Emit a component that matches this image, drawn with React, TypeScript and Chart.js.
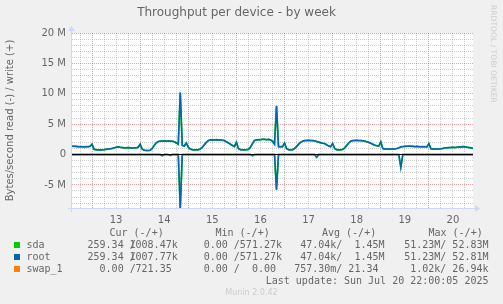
import React, { useEffect, useRef } from "react";
import { Chart, registerables } from "chart.js";

Chart.register(...registerables);

// Time axis: hours since Jul 12 14:00 (200 hours shown, hourly samples)
const TOTAL_HOURS = 200;
const dayLabelHours = [22, 46, 70, 94, 118, 142, 166, 190];
const dayLabels = ["13", "14", "15", "16", "17", "18", "19", "20"];
const yLabelValues = [-5, 0, 5, 10, 15, 20];
const yLabels = ["-5 M", "0", "5 M", "10 M", "15 M", "20 M"];
const Y_MIN = -8.8;
const Y_MAX = 20;

// Values in MB/s (millions of bytes per second), write positive, read negative
const sdaWrite = [
  1.38, 1.35, 1.35, 1.3, 1.3, 1.3, 1.25, 1.3, 1.3, 1.35,
  1.7, 0.85, 0.8, 0.75, 0.75, 0.78, 0.8, 0.85, 0.9, 0.95,
  1.0, 1.1, 1.2, 1.27, 1.2, 1.15, 1.1, 1.1, 1.15, 1.1,
  1.05, 1.1, 1.1, 1.2, 1.7, 0.9, 0.7, 0.66, 0.66, 0.7,
  1.0, 1.5, 1.9, 2.15, 2.2, 2.2, 2.25, 2.2, 2.25, 2.2,
  2.2, 2.1, 1.9, 1.7, 10.2, 1.5, 1.4, 1.9, 1.2, 0.9,
  0.8, 0.78, 0.78, 0.8, 0.9, 1.2, 1.6, 2.0, 2.3, 2.4,
  2.45, 2.4, 2.45, 2.4, 2.4, 2.35, 2.3, 2.1, 1.9, 1.7,
  1.5, 1.3, 2.0, 1.0, 0.8, 0.78, 0.78, 0.8, 0.85, 1.2,
  1.8, 2.3, 2.4, 2.45, 2.45, 2.5, 2.5, 2.45, 2.5, 2.4,
  2.2, 1.7, 8.0, 1.3, 1.3, 1.3, 1.9, 1.0, 0.8, 0.78,
  0.8, 1.0, 1.3, 1.7, 2.0, 2.2, 2.3, 2.3, 2.35, 2.3,
  2.3, 2.25, 2.15, 2.05, 1.95, 1.85, 1.8, 1.6, 1.4, 1.3,
  1.8, 1.0, 0.8, 0.78, 0.78, 0.85, 1.1, 1.5, 1.9, 2.2,
  2.3, 2.3, 2.35, 2.3, 2.3, 2.25, 2.2, 2.1, 2.0, 1.85,
  1.7, 1.55, 1.45, 1.4, 2.1, 1.0, 0.9, 0.9, 0.88, 0.9,
  0.9, 0.92, 1.0, 1.1, 1.25, 1.3, 1.35, 1.35, 1.4, 1.35,
  1.35, 1.3, 1.35, 1.3, 1.3, 1.3, 1.3, 1.25, 1.8, 0.95,
  0.9, 0.9, 0.9, 0.92, 0.95, 1.0, 1.1, 1.1, 1.15, 1.15,
  1.2, 1.15, 1.2, 1.25, 1.25, 1.3, 1.25, 1.2, 1.15, 1.1,
  1.0,
];
const sdaRead = [
  0, 0, 0, 0, 0, 0, 0, 0, 0, 0,
  0, 0, 0, 0, 0, 0, 0, 0, 0, 0,
  0, 0, 0, 0, 0, 0, 0, 0, 0, 0,
  0, 0, 0, 0, 0, 0, 0, 0, 0, 0,
  0, 0, 0, 0, 0, -0.2, 0, 0, 0, -0.15,
  0, 0, 0, 0, -8.9, 0, 0, 0, 0, 0,
  0, 0, 0, 0, 0, 0, 0, 0, 0, 0,
  0, 0, 0, 0, 0, 0, 0, 0, 0, 0,
  0, 0, 0, 0, 0, 0, 0, 0, 0, 0,
  -0.2, 0, 0, 0, 0, 0, 0, 0, 0, 0,
  0, 0, -5.8, 0, 0, 0, 0, 0, 0, 0,
  0, 0, 0, 0, 0, 0, 0, 0, 0, 0,
  0, 0, -0.45, 0, 0, 0, 0, 0, 0, 0,
  0, 0, 0, 0, 0, 0, 0, 0, 0, 0,
  0, 0, 0, 0, 0, 0, 0, 0, 0, 0,
  0, 0, 0, 0, 0, 0, 0, 0, 0, 0,
  0, 0, 0, 0, -2.1, 0, 0, 0, 0, 0,
  0, 0, 0, 0, 0, 0, 0, 0, 0, 0,
  0, 0, 0, 0, 0, 0, 0, 0, 0, 0,
  0, 0, 0, 0, 0, 0, 0, 0, 0, 0,
  0,
];
// root is the only partition on sda: same curve at this resolution
const rootWrite = sdaWrite;
const rootRead = sdaRead;
// swap_1 stays at a few bytes/s: flat at zero on this scale
const swapWrite = [
  0, 0, 0, 0, 0, 0, 0, 0, 0, 0, 0, 0, 0, 0, 0, 0, 0, 0, 0, 0,
  0, 0, 0, 0, 0, 0, 0, 0, 0, 0, 0, 0, 0, 0, 0, 0, 0, 0, 0, 0,
  0, 0, 0, 0, 0, 0, 0, 0, 0, 0, 0, 0, 0, 0, 0, 0, 0, 0, 0, 0,
  0, 0, 0, 0, 0, 0, 0, 0, 0, 0, 0, 0, 0, 0, 0, 0, 0, 0, 0, 0,
  0, 0, 0, 0, 0, 0, 0, 0, 0, 0, 0, 0, 0, 0, 0, 0, 0, 0, 0, 0,
  0, 0, 0, 0, 0, 0, 0, 0, 0, 0, 0, 0, 0, 0, 0, 0, 0, 0, 0, 0,
  0, 0, 0, 0, 0, 0, 0, 0, 0, 0, 0, 0, 0, 0, 0, 0, 0, 0, 0, 0,
  0, 0, 0, 0, 0, 0, 0, 0, 0, 0, 0, 0, 0, 0, 0, 0, 0, 0, 0, 0,
  0, 0, 0, 0, 0, 0, 0, 0, 0, 0, 0, 0, 0, 0, 0, 0, 0, 0, 0, 0,
  0, 0, 0, 0, 0, 0, 0, 0, 0, 0, 0, 0, 0, 0, 0, 0, 0, 0, 0, 0,
  0,
];
const swapRead = swapWrite;

// Legend table
const seriesNames = ["sda", "root", "swap_1"];
const seriesColors = ["#00CC00", "#0066B3", "#FF8000"];
const curRead = ["259.34 /", "259.34 /", "0.00 /"];
const curWrite = ["1008.47k", "1007.77k", "721.35 "];
const minVals = ["0.00 /571.27k", "0.00 /571.27k", "0.00 /  0.00 "];
const avgVals = ["47.04k/  1.45M", "47.04k/  1.45M", "757.30m/ 21.34 "];
const maxVals = ["51.23M/ 52.83M", "51.23M/ 52.81M", "1.02k/ 26.94k"];
const headers = ["Cur (-/+)", "Min (-/+)", "Avg (-/+)", "Max (-/+)"];
const lastUpdate = "Last update: Sun Jul 20 22:00:05 2025";

const MAJOR = "rgba(222,79,79,0.55)";
const MINOR = "rgba(150,150,150,0.45)";
const FONT_COLOR = "#666666";
const AXIS_COLOR = "#CFD6F8";

const toPoints = (arr: number[]) => arr.map((v, i) => ({ x: i, y: v }));

const muninPlugin = {
  id: "munin",
  beforeDraw(chart: any) {
    const { ctx, chartArea: a } = chart;
    ctx.save();
    ctx.fillStyle = "#F0F0F0";
    ctx.fillRect(0, 0, chart.width, chart.height);
    ctx.fillStyle = "#FFFFFF";
    ctx.fillRect(a.left, a.top, a.right - a.left, a.bottom - a.top);
    ctx.restore();
  },
  afterDatasetsDraw(chart: any) {
    const { ctx, chartArea: a } = chart;
    const y0 = Math.round(chart.scales.y.getPixelForValue(0) - 0.5) + 0.5;
    ctx.save();
    ctx.strokeStyle = "#000000";
    ctx.lineWidth = 1;
    ctx.beginPath();
    ctx.moveTo(a.left, y0);
    ctx.lineTo(a.right, y0);
    ctx.stroke();
    // axes with arrows
    ctx.strokeStyle = AXIS_COLOR;
    ctx.fillStyle = AXIS_COLOR;
    const bx = Math.round(a.bottom) + 0.5;
    const lx = Math.round(a.left) - 0.5;
    ctx.beginPath();
    ctx.moveTo(a.left - 4, bx);
    ctx.lineTo(a.right + 3, bx);
    ctx.moveTo(lx, a.bottom + 4);
    ctx.lineTo(lx, a.top - 3);
    ctx.stroke();
    ctx.beginPath();
    ctx.moveTo(a.right + 2, bx - 3.5);
    ctx.lineTo(a.right + 7, bx);
    ctx.lineTo(a.right + 2, bx + 3.5);
    ctx.closePath();
    ctx.fill();
    ctx.beginPath();
    ctx.moveTo(lx - 3.5, a.top - 2);
    ctx.lineTo(lx, a.top - 7);
    ctx.lineTo(lx + 3.5, a.top - 2);
    ctx.closePath();
    ctx.fill();
    ctx.restore();
  },
};

const tickFont = { family: "'DejaVu Sans', sans-serif", size: 10 };

export default function App() {
  const ref = useRef<HTMLCanvasElement>(null);

  useEffect(() => {
    const mk = (label: string, data: number[], color: string, width: number, order: number) => ({
      label,
      data: toPoints(data),
      borderColor: color,
      backgroundColor: color,
      borderWidth: width,
      pointRadius: 0,
      tension: 0,
      fill: false,
      order,
    });
    const chart = new Chart(ref.current as HTMLCanvasElement, {
      type: "line",
      data: {
        datasets: [
          mk("root read", rootRead, "#0066B3", 1.5, 1),
          mk("root write", rootWrite, "#0066B3", 1.5, 1),
          mk("sda read", sdaRead, "#00CC00", 1.7, 2),
          mk("sda write", sdaWrite, "#00CC00", 1.7, 2),
          mk("swap_1 read", swapRead, "#FF8000", 1, 3),
          mk("swap_1 write", swapWrite, "#FF8000", 1, 3),
        ],
      },
      options: {
        responsive: false,
        animation: false,
        devicePixelRatio: 1,
        layout: { padding: { left: 0, right: 30, top: 0, bottom: 0 } },
        plugins: {
          legend: { display: false },
          tooltip: { enabled: false },
          title: {
            display: true,
            text: "Throughput per device - by week",
            color: FONT_COLOR,
            font: { family: "'DejaVu Sans', sans-serif", size: 12, weight: "normal" },
            padding: { top: 6, bottom: 12.6 },
          },
        },
        scales: {
          x: {
            type: "linear",
            min: 0,
            max: TOTAL_HOURS,
            afterBuildTicks: (s: any) => {
              const t: any[] = [];
              for (let h = 4; h < TOTAL_HOURS; h += 6) t.push({ value: h });
              s.ticks = t;
            },
            afterFit: (s: any) => {
              s.height = 96;
            },
            grid: {
              drawTicks: false,
              lineWidth: 1,
              color: (c: any) => (c.tick && (c.tick.value - 10) % 24 === 0 ? MAJOR : MINOR),
            },
            border: { display: false, dash: [1, 1] },
            ticks: {
              autoSkip: false,
              maxRotation: 0,
              padding: 6,
              color: FONT_COLOR,
              font: tickFont,
              callback: (v: any) => {
                const i = dayLabelHours.indexOf(Number(v));
                return i >= 0 ? dayLabels[i] : "";
              },
            },
          },
          y: {
            min: Y_MIN,
            max: Y_MAX,
            afterBuildTicks: (s: any) => {
              const t: any[] = [];
              for (let m = -8; m <= 20; m += 1) t.push({ value: m });
              s.ticks = t;
            },
            afterFit: (s: any) => {
              s.width = 72;
            },
            grid: {
              drawTicks: false,
              lineWidth: 1,
              color: (c: any) => (c.tick && c.tick.value % 5 === 0 ? MAJOR : MINOR),
            },
            border: { display: false, dash: [1, 1] },
            ticks: {
              autoSkip: false,
              padding: 6,
              color: FONT_COLOR,
              font: tickFont,
              callback: (v: any) => {
                const i = yLabelValues.indexOf(Number(v));
                return i >= 0 ? yLabels[i] : "";
              },
            },
            title: {
              display: true,
              text: "Bytes/second read (-) / write (+)",
              color: FONT_COLOR,
              font: tickFont,
              padding: { top: 4.5, bottom: 0 },
            },
          },
        },
      },
      plugins: [muninPlugin],
    } as any);
    return () => chart.destroy();
  }, []);

  const mono: React.CSSProperties = {
    position: "absolute",
    fontFamily: "'DejaVu Sans Mono', monospace",
    fontSize: 10,
    lineHeight: "12px",
    color: FONT_COLOR,
    whiteSpace: "pre",
    margin: 0,
  };
  const right = (edge: number, top: number, text: string, key: string) => (
    <div key={key} style={{ ...mono, top, right: 503 - edge, textAlign: "right" }}>
      {text}
    </div>
  );
  const headerLefts = [109.5, 215.5, 322, 428.5];
  const rowTops = [238.6, 250.7, 262.8];

  return (
    <div
      style={{
        position: "absolute",
        left: 0,
        top: 0,
        width: 503,
        height: 304,
        background: "#F0F0F0",
        overflow: "hidden",
      }}
    >
      <canvas
        ref={ref}
        width={503}
        height={304}
        style={{ position: "absolute", left: 0, top: 0, width: 503, height: 304 }}
      />
      {headers.map((h, i) => (
        <div key={"h" + i} style={{ ...mono, top: 226.5, left: headerLefts[i] }}>
          {h}
        </div>
      ))}
      {seriesNames.map((n, i) => (
        <React.Fragment key={n}>
          <div
            style={{
              position: "absolute",
              left: 14,
              top: rowTops[i] + 3.2,
              width: 6,
              height: 6,
              background: seriesColors[i],
            }}
          />
          <div style={{ ...mono, top: rowTops[i], left: 26.5 }}>{n}</div>
          {right(135.7, rowTops[i], curRead[i], "cr" + i)}
          {right(177.7, rowTops[i], curWrite[i], "cw" + i)}
          {right(282, rowTops[i], minVals[i], "mi" + i)}
          {right(384.5, rowTops[i], avgVals[i], "av" + i)}
          {right(488.5, rowTops[i], maxVals[i], "ma" + i)}
        </React.Fragment>
      ))}
      {right(488.5, 274.9, lastUpdate, "lu")}
      <div
        style={{
          position: "absolute",
          left: 0,
          width: 503,
          top: 288.3,
          textAlign: "center",
          fontFamily: "'DejaVu Sans', sans-serif",
          fontSize: 8,
          lineHeight: "10px",
          color: "#CCCCCC",
        }}
      >
        Munin 2.0.42
      </div>
      <div
        style={{
          position: "absolute",
          left: 488,
          top: 5,
          writingMode: "vertical-rl",
          fontFamily: "'DejaVu Sans', sans-serif",
          fontSize: 7.6,
          lineHeight: "10px",
          color: "#CCCCCC",
          whiteSpace: "pre",
        }}
      >
        RRDTOOL / TOBI OETIKER
      </div>
    </div>
  );
}
